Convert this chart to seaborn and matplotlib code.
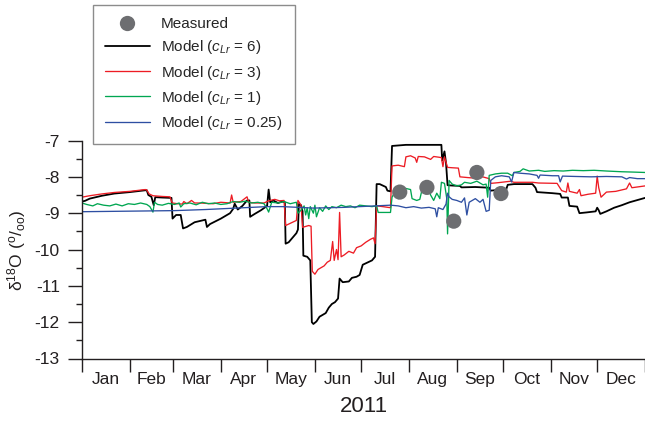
import numpy as np
import pandas as pd
import matplotlib
matplotlib.use("Agg")
import matplotlib.pyplot as plt
from matplotlib.lines import Line2D
import seaborn as sns

# values: x = day of year 2011, y = delta-18O (permil)
black_day = [0, 2, 5, 13, 21, 31, 41, 42, 43, 45, 46.5, 47.5, 52, 58, 58.7, 61, 64, 65.5, 68, 73,
             80, 81, 83, 90, 96, 98, 99, 101, 104, 107, 108.5, 109, 112, 116, 120, 121, 122, 124,
             127, 130, 131.5, 132, 134, 137, 139, 140, 140.6, 142, 143, 143.5, 146, 148, 149, 150,
             152, 154, 158, 160, 162, 164, 166, 167, 169, 173, 175, 178, 180, 182, 184, 188, 190,
             191, 193, 197, 198, 200, 201, 210, 220, 233, 233.5, 235, 236, 237, 240, 245, 246, 255,
             264, 265, 270, 275, 276, 280, 292, 294, 295, 305, 310, 311, 315, 316, 321, 322.5, 327,
             333, 334, 335, 336, 340, 345, 350, 355, 360, 365]
black_val = [-8.68, -8.66, -8.6, -8.52, -8.46, -8.42, -8.37, -8.37, -8.5, -8.55, -8.78, -8.56, -8.57,
             -8.58, -9.15, -9.05, -9.05, -9.42, -9.38, -9.25, -9.18, -9.38, -9.3, -9.15, -9.0, -8.88,
             -8.74, -8.9, -8.8, -8.65, -8.65, -9.1, -9.02, -8.92, -8.8, -8.35, -8.7, -8.65, -8.72,
             -8.68, -8.7, -9.84, -9.8, -9.65, -9.55, -9.45, -8.75, -8.78, -8.95, -10.17, -10.2, -10.3,
             -12.0, -12.05, -11.98, -11.85, -11.75, -11.6, -11.5, -11.45, -11.35, -10.8, -10.9, -10.88,
             -10.78, -10.75, -10.7, -10.42, -10.38, -10.3, -10.2, -8.2, -8.2, -8.28, -8.38, -8.4,
             -7.15, -7.12, -7.12, -7.12, -7.55, -7.3, -7.62, -8.23, -8.24, -8.25, -8.29, -8.28, -8.3,
             -8.38, -8.36, -8.35, -8.22, -8.2, -8.2, -8.3, -8.42, -8.45, -8.47, -8.57, -8.57, -8.8,
             -8.82, -9.0, -8.98, -8.95, -8.85, -8.92, -9.02, -8.95, -8.85, -8.78, -8.7, -8.64, -8.58]

red_day = [0, 5, 13, 21, 31, 41, 42, 43.5, 46, 52, 57, 58.5, 62, 65, 66, 68, 71, 73, 77, 80, 85,
           90, 96, 97, 98, 103, 107, 108, 112, 118, 121, 125, 128, 131, 132, 135, 139, 140, 142,
           143, 147, 148.5, 149.3, 151, 153, 155, 157, 159, 161, 162.5, 163.5, 165, 166, 167, 168,
           170, 173, 176, 178, 181, 184, 187, 189, 190, 191, 195, 200, 201, 205, 209, 210, 213,
           216, 217, 218, 222, 226, 228, 233, 234, 235, 237, 240, 244, 245, 250, 256, 258, 264,
           265, 270, 278, 280, 292, 296, 308, 311, 314, 315, 316, 321, 322.5, 323.5, 328, 333,
           334, 335, 336.5, 340, 346, 353, 355, 356.5, 365]
red_val = [-8.56, -8.52, -8.47, -8.43, -8.4, -8.35, -8.36, -8.47, -8.52, -8.54, -8.55, -8.72, -8.74,
           -8.75, -8.68, -8.74, -8.65, -8.72, -8.72, -8.73, -8.74, -8.7, -8.72, -8.5, -8.7, -8.68,
           -8.55, -8.7, -8.72, -8.72, -8.66, -8.62, -8.66, -8.65, -9.34, -9.28, -9.2, -8.65, -8.78,
           -9.39, -9.34, -9.36, -10.6, -10.68, -10.55, -10.5, -10.45, -10.35, -10.3, -9.78, -10.3,
           -10.0, -10.28, -8.98, -10.2, -10.15, -10.05, -10.1, -9.95, -9.9, -9.8, -9.72, -9.68,
           -9.84, -8.8, -8.82, -8.85, -7.7, -7.68, -7.72, -7.45, -7.42, -7.48, -7.6, -7.44, -7.45,
           -7.52, -7.44, -7.47, -7.72, -7.45, -7.74, -7.75, -7.76, -8.0, -8.02, -8.04, -7.98, -8.05,
           -8.18, -8.16, -8.12, -8.15, -8.15, -8.17, -8.18, -8.38, -8.42, -8.17, -8.4, -8.45, -8.35,
           -8.52, -8.48, -8.45, -7.98, -8.3, -8.56, -8.42, -8.4, -8.33, -8.17, -8.3, -8.25]

green_day = [0, 3, 7, 10, 14, 18, 22, 26, 30, 34, 38, 42, 44, 46, 47, 49, 52, 56, 60, 63, 64, 66,
             70, 74, 78, 82, 86, 90, 94, 98, 102, 106, 110, 114, 118, 120, 121, 123, 127, 131, 135,
             139, 140, 142, 144, 145, 146, 147, 148, 150, 151, 152, 154, 156, 158, 160, 162, 165,
             168, 171, 174, 177, 180, 184, 188, 191, 192, 200, 201, 203, 205, 207, 210, 213, 214,
             217, 219, 221, 224, 226, 228, 230, 232, 233, 235, 236.5, 237, 238, 240, 243, 246, 248,
             252, 256, 260, 262, 263, 264, 268, 272, 276, 279, 280, 284, 286, 290, 296, 300, 306,
             312, 318, 325, 332, 340, 350, 358, 365]
green_val = [-8.72, -8.76, -8.8, -8.74, -8.78, -8.8, -8.75, -8.8, -8.74, -8.76, -8.72, -8.76, -8.82,
             -8.97, -8.7, -8.76, -8.78, -8.73, -8.76, -8.72, -8.83, -8.74, -8.72, -8.77, -8.7, -8.74,
             -8.72, -8.76, -8.74, -8.68, -8.7, -8.67, -8.72, -8.7, -8.74, -8.88, -8.97, -8.7, -8.72,
             -8.68, -8.74, -8.7, -9.0, -8.92, -8.8, -9.05, -8.85, -9.15, -8.82, -9.0, -8.78, -9.1,
             -8.85, -8.95, -8.8, -8.9, -8.82, -8.85, -8.78, -8.82, -8.8, -8.85, -8.78, -8.8, -8.82,
             -8.8, -8.98, -8.98, -8.56, -8.4, -8.6, -8.35, -8.32, -8.35, -8.6, -8.65, -8.62, -8.25,
             -8.26, -8.5, -8.65, -8.45, -8.6, -8.15, -8.18, -8.6, -9.57, -8.1, -8.2, -8.25, -8.22,
             -8.15, -8.18, -8.12, -8.22, -8.2, -8.56, -7.96, -7.92, -7.9, -7.9, -7.97, -7.88, -7.85,
             -7.78, -7.84, -7.82, -7.85, -7.83, -7.84, -7.82, -7.83, -7.82, -7.84, -7.86, -7.87, -7.88]

blue_day = [0, 20, 40, 60, 80, 100, 120, 130, 140, 150, 160, 170, 180, 190, 200, 205, 210, 215,
            220, 225, 229, 230, 231, 234, 236, 237, 238, 240, 243, 246, 248, 249.5, 251, 255, 258,
            260, 262, 264, 265, 268, 272, 277, 278.5, 280, 284, 290, 295, 296, 297, 305, 309, 310,
            311.5, 320, 330, 340, 350, 353, 355, 360, 365]
blue_val = [-8.96, -8.95, -8.94, -8.93, -8.9, -8.86, -8.82, -8.82, -8.84, -8.86, -8.85, -8.84, -8.82,
            -8.8, -8.78, -8.8, -8.85, -8.82, -8.86, -8.84, -8.88, -9.1, -8.85, -8.9, -8.75, -8.45,
            -8.55, -8.62, -8.65, -8.7, -8.58, -9.05, -8.7, -8.6, -8.7, -8.62, -8.95, -8.92, -8.1,
            -8.0, -7.97, -8.0, -8.14, -7.88, -7.9, -7.92, -7.96, -8.04, -7.95, -7.97, -7.97, -8.14,
            -7.98, -7.99, -8.0, -7.99, -8.0, -8.06, -8.02, -8.05, -8.05]

meas_day = [206, 223.6, 241, 256, 271.6]
meas_val = [-8.42, -8.29, -9.22, -7.88, -8.46]

month_start = [0, 31, 59, 90, 120, 151, 181, 212, 243, 273, 304, 334, 365]
month_names = ['Jan', 'Feb', 'Mar', 'Apr', 'May', 'Jun', 'Jul', 'Aug', 'Sep', 'Oct', 'Nov', 'Dec']

labels = ['Model ($c_{Lr}$ = 6)', 'Model ($c_{Lr}$ = 3)',
          'Model ($c_{Lr}$ = 1)', 'Model ($c_{Lr}$ = 0.25)']
colors = ['#000000', '#ed1c24', '#00a651', '#2e4fa2']
widths = [1.3, 0.95, 0.95, 0.95]

sns.set_style("ticks")
plt.rcParams['font.family'] = ['Liberation Sans', 'DejaVu Sans']
plt.rcParams['mathtext.fontset'] = 'custom'
plt.rcParams['mathtext.rm'] = 'Liberation Sans'
plt.rcParams['mathtext.it'] = 'Liberation Sans:italic'
plt.rcParams['axes.unicode_minus'] = False

frames = []
for lab, d, v in zip(labels, [black_day, red_day, green_day, blue_day],
                     [black_val, red_val, green_val, blue_val]):
    frames.append(pd.DataFrame({'day': d, 'd18O': v, 'series': lab}))
model_df = pd.concat(frames, ignore_index=True)
meas_df = pd.DataFrame({'day': meas_day, 'd18O': meas_val})

fig = plt.figure(figsize=(6.45, 4.21), dpi=100)
ax = fig.add_axes([82 / 645, 1 - 358.5 / 421, 563 / 645, 218 / 421])

sns.lineplot(data=model_df, x='day', y='d18O', hue='series', hue_order=labels,
             palette=dict(zip(labels, colors)), estimator=None, sort=False,
             legend=False, ax=ax)
for line, lw in zip(ax.lines, widths):
    line.set_linewidth(lw)

sns.scatterplot(data=meas_df, x='day', y='d18O', s=120, color='#6d6e71',
                edgecolor='none', zorder=5, ax=ax)

ax.set_xlim(0, 365)
ax.set_ylim(-13, -7)
ax.set_xticks(month_start)
ax.set_xticklabels([])
mids = [(a + b) / 2 for a, b in zip(month_start[:-1], month_start[1:])]
ax.set_xticks(mids, minor=True)
ax.set_xticklabels(month_names, minor=True)
ax.set_yticks(range(-13, -6))
ax.set_yticks(np.arange(-12.5, -7, 1), minor=True)

ax.tick_params(axis='x', which='major', length=9, width=1, color='#231f20')
ax.tick_params(axis='x', which='minor', length=0, pad=10, labelsize=12.5, labelcolor='#231f20')
ax.tick_params(axis='y', which='major', length=10, width=1, pad=6, labelsize=12.5,
               color='#231f20', labelcolor='#231f20')
ax.tick_params(axis='y', which='minor', length=4.5, width=1, color='#231f20')

sns.despine(ax=ax)
for side in ['left', 'bottom']:
    ax.spines[side].set_color('#231f20')
    ax.spines[side].set_linewidth(1)

ax.set_xlabel('2011', fontsize=16, labelpad=6, color='#231f20')
ax.set_ylabel('')
fig.text(17 / 645, 1 - 250 / 421,
         'δ$^{\\mathregular{18}}$O ($^{\\mathregular{o}}$/$_{\\mathregular{oo}}$)',
         rotation=90, ha='center', va='center', fontsize=12.5, color='#231f20')

handles = [Line2D([], [], marker='o', linestyle='none', markersize=11,
                  markerfacecolor='#6d6e71', markeredgecolor='none')]
for c, lw in zip(colors, widths):
    handles.append(Line2D([], [], color=c, linewidth=lw))
leg = fig.legend(handles, ['Measured'] + labels, loc='upper left',
                 bbox_to_anchor=(93 / 645, 1 - 5 / 421), borderaxespad=0,
                 fontsize=11, frameon=True, fancybox=False, framealpha=1,
                 edgecolor='#8c8c8c', handlelength=2.9, handletextpad=0.75,
                 labelspacing=0.47, borderpad=0.8)
leg.get_frame().set_linewidth(1)

fig.savefig('out.png', dpi=100)
